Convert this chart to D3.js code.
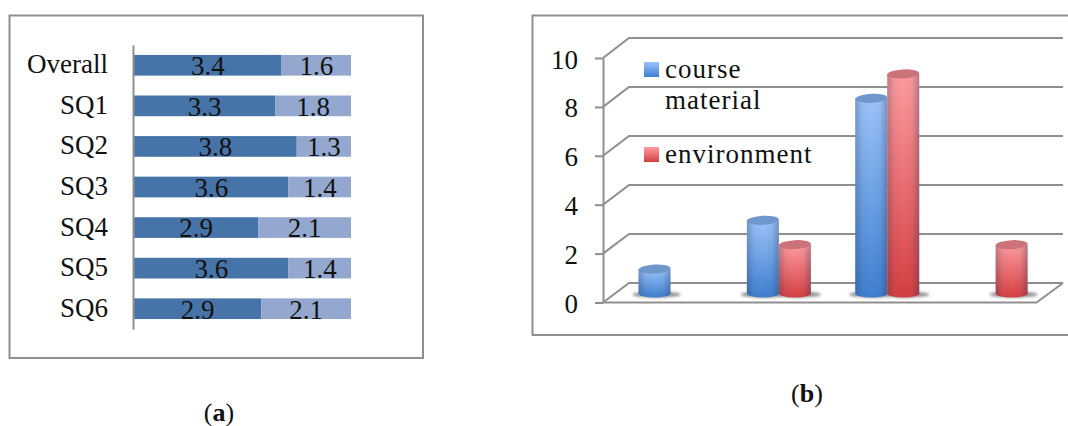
<!DOCTYPE html>
<html>
<head>
<meta charset="utf-8">
<script src="https://cdn.jsdelivr.net/npm/d3@7"></script>
<style>
html, body { margin: 0; padding: 0; background: #fff; }
text { font-family: "Liberation Serif", serif; fill: #111; }
</style>
</head>
<body>
<div id="chart"></div>
<script>
// panel (a) values
var questions = ["Overall", "SQ1", "SQ2", "SQ3", "SQ4", "SQ5", "SQ6"];
var agreeValues = [3.4, 3.25, 3.75, 3.56, 2.86, 3.56, 2.93];
var restValues = [1.6, 1.75, 1.25, 1.44, 2.14, 1.44, 2.07];

// panel (b) values, null means no column there
var groups = ["g1", "g2", "g3", "g4"];
var courseMaterial = [1, 3, 8, null];
var environment = [null, 2, 9, 2];
var yTicks = [0, 2, 4, 6, 8, 10];

var width = 1068, height = 426;
var lineColor = "#8f8f8f";

var svg = d3.select("#chart").append("svg")
    .attr("width", width)
    .attr("height", height)
    .style("display", "block");

var defs = svg.append("defs");

function addVertical(id, top, bottom) {
    var g = defs.append("linearGradient").attr("id", id)
        .attr("x1", 0).attr("y1", 0).attr("x2", 0).attr("y2", 1);
    g.append("stop").attr("offset", "0%").attr("stop-color", top);
    g.append("stop").attr("offset", "100%").attr("stop-color", bottom);
}
addVertical("blueBody", "#9cc4fb", "#3f7fd0");
addVertical("redBody", "#ff9ca0", "#d63f41");

// dark edges of the cylinders
var edge = defs.append("linearGradient").attr("id", "edge");
[[0, 0.28], [0.22, 0.05], [0.5, 0], [0.78, 0.05], [1, 0.32]].forEach(function (s) {
    edge.append("stop").attr("offset", s[0]).attr("stop-color", "#203050").attr("stop-opacity", s[1]);
});
defs.append("filter").attr("id", "soft").attr("x", "-30%").attr("y", "-100%").attr("width", "160%").attr("height", "300%")
    .append("feGaussianBlur").attr("stdDeviation", 1.8);

// ---------- panel (a) ----------
var panelA = svg.append("g");
panelA.append("rect")
    .attr("x", 9.5).attr("y", 15.5).attr("width", 413.5).attr("height", 342.5)
    .attr("fill", "#fff").attr("stroke", lineColor).attr("stroke-width", 2);

var x = d3.scaleLinear().domain([0, 1]).range([134, 351]);
var y = d3.scaleBand().domain(questions).range([45, 329]).paddingInner(0.49).paddingOuter(0.245);

var rows = questions.map(function (q, i) {
    return { q: q, agree: agreeValues[i], rest: restValues[i] };
});
var stack = d3.stack().keys(["agree", "rest"]).offset(d3.stackOffsetExpand)(rows);
var barColors = { agree: "#4674a8", rest: "#94a8cf" };
var fmt = d3.format(".1f");

stack.forEach(function (layer) {
    var g = panelA.append("g");
    g.selectAll("rect").data(layer).enter().append("rect")
        .attr("x", function (d) { return x(d[0]); })
        .attr("y", function (d) { return y(d.data.q); })
        .attr("width", function (d) { return x(d[1]) - x(d[0]); })
        .attr("height", y.bandwidth())
        .attr("fill", barColors[layer.key]);
    g.selectAll("text").data(layer).enter().append("text")
        .attr("x", function (d) { return (x(d[0]) + x(d[1])) / 2; })
        .attr("y", function (d) { return y(d.data.q) + y.bandwidth() - 0.5; })
        .attr("text-anchor", "middle")
        .attr("font-size", 27)
        .text(function (d) { return fmt(d.data[layer.key]); });
});

panelA.append("g")
    .attr("transform", "translate(133,0)")
    .call(d3.axisLeft(y).tickSize(0).tickPadding(25))
    .call(function (a) {
        a.select(".domain").attr("stroke", lineColor).attr("stroke-width", 2);
        a.selectAll("text").attr("font-size", 27).attr("font-family", "Liberation Serif")
            .attr("fill", "#111").attr("dy", 8);
    });

// ---------- panel (b) ----------
var panelB = svg.append("g");
panelB.append("path")
    .attr("d", "M1068,15.5H532.5V335H1068")
    .attr("fill", "none").attr("stroke", lineColor).attr("stroke-width", 2);

var yFront = d3.scaleLinear().domain([0, 10]).range([302.5, 58]);
var yBack = d3.scaleLinear().domain([0, 10]).range([283, 38]);
var yCol = d3.scaleLinear().domain([0, 10]).range([293.5, 49.5]);
var x0 = d3.scaleBand().domain(groups).range([603, 1036.5]);
var x1 = d3.scaleBand().domain(["course", "env"]).range([35.5, 99.5]);
var depthX = 26;

var grid = panelB.append("g").attr("fill", "none").attr("stroke", lineColor).attr("stroke-width", 2);
yTicks.forEach(function (t) {
    grid.append("path").attr("d",
        "M603," + yFront(t) + "L" + (603 + depthX) + "," + yBack(t) + "H1063");
});
// floor
grid.append("path").attr("d",
    "M603," + yFront(0) + "H1036.5L1063," + yBack(0));

panelB.append("g")
    .attr("transform", "translate(603,0)")
    .call(d3.axisLeft(yFront).tickValues(yTicks).tickSize(8).tickPadding(17).tickSizeOuter(0))
    .call(function (a) {
        a.select(".domain").attr("stroke", lineColor).attr("stroke-width", 2);
        a.selectAll("line").attr("stroke", lineColor).attr("stroke-width", 2);
        a.selectAll("text").attr("font-size", 27).attr("font-family", "Liberation Serif")
            .attr("fill", "#111").attr("dy", 10);
    });

var columns = [];
groups.forEach(function (g, i) {
    if (courseMaterial[i] !== null) columns.push({ group: g, s: "course", v: courseMaterial[i] });
    if (environment[i] !== null) columns.push({ group: g, s: "env", v: environment[i] });
});
var bodyFill = { course: "url(#blueBody)", env: "url(#redBody)" };
var topFill = { course: "#7097cc", env: "#cc7379" };

function colLeft(d) { return x0(d.group) + x1(d.s); }

var rx = x1.bandwidth() / 2;
var shadows = panelB.append("g").attr("filter", "url(#soft)");
shadows.selectAll("ellipse").data(columns).enter().append("ellipse")
    .attr("cx", function (d) { return colLeft(d) + rx + 2; })
    .attr("cy", yCol(0) + 1)
    .attr("rx", rx + 8)
    .attr("ry", 3)
    .attr("fill", "#8a8a8a");

function bodyPath(d) {
    var l = colLeft(d), r = l + rx * 2;
    return "M" + l + "," + yCol(d.v) + "L" + l + "," + yCol(0) +
        "A" + rx + ",4 0 0 0 " + r + "," + yCol(0) + "L" + r + "," + yCol(d.v) + "Z";
}

var col = panelB.selectAll("g.col").data(columns).enter().append("g").attr("class", "col");
col.append("path").attr("d", bodyPath).attr("fill", function (d) { return bodyFill[d.s]; });
col.append("path").attr("d", bodyPath).attr("fill", "url(#edge)");
col.append("ellipse")
    .attr("cx", function (d) { return colLeft(d) + rx; })
    .attr("cy", function (d) { return yCol(d.v); })
    .attr("rx", rx)
    .attr("ry", 4.5)
    .attr("transform", function (d) { return "rotate(-3," + (colLeft(d) + rx) + "," + yCol(d.v) + ")"; })
    .attr("fill", function (d) { return topFill[d.s]; });

// legend
var legend = panelB.append("g");
var legendItems = [
    { lines: ["course", "material"], y: 62, fill: "url(#blueBody)" },
    { lines: ["environment"], y: 147, fill: "url(#redBody)" }
];
legendItems.forEach(function (it) {
    legend.append("rect").attr("x", 644).attr("y", it.y).attr("width", 15).attr("height", 15).attr("fill", it.fill);
    it.lines.forEach(function (t, i) {
        legend.append("text").attr("x", 665).attr("y", it.y + 16 + i * 31)
            .attr("font-size", 27).attr("letter-spacing", 1).text(t);
    });
});

// captions
function caption(letter, cx, base) {
    var t = svg.append("text").attr("x", cx).attr("y", base).attr("text-anchor", "middle").attr("font-size", 26);
    t.append("tspan").text("(");
    t.append("tspan").attr("font-weight", "bold").text(letter);
    t.append("tspan").text(")");
}
caption("a", 219, 421);
caption("b", 807, 402);
</script>
</body>
</html>
